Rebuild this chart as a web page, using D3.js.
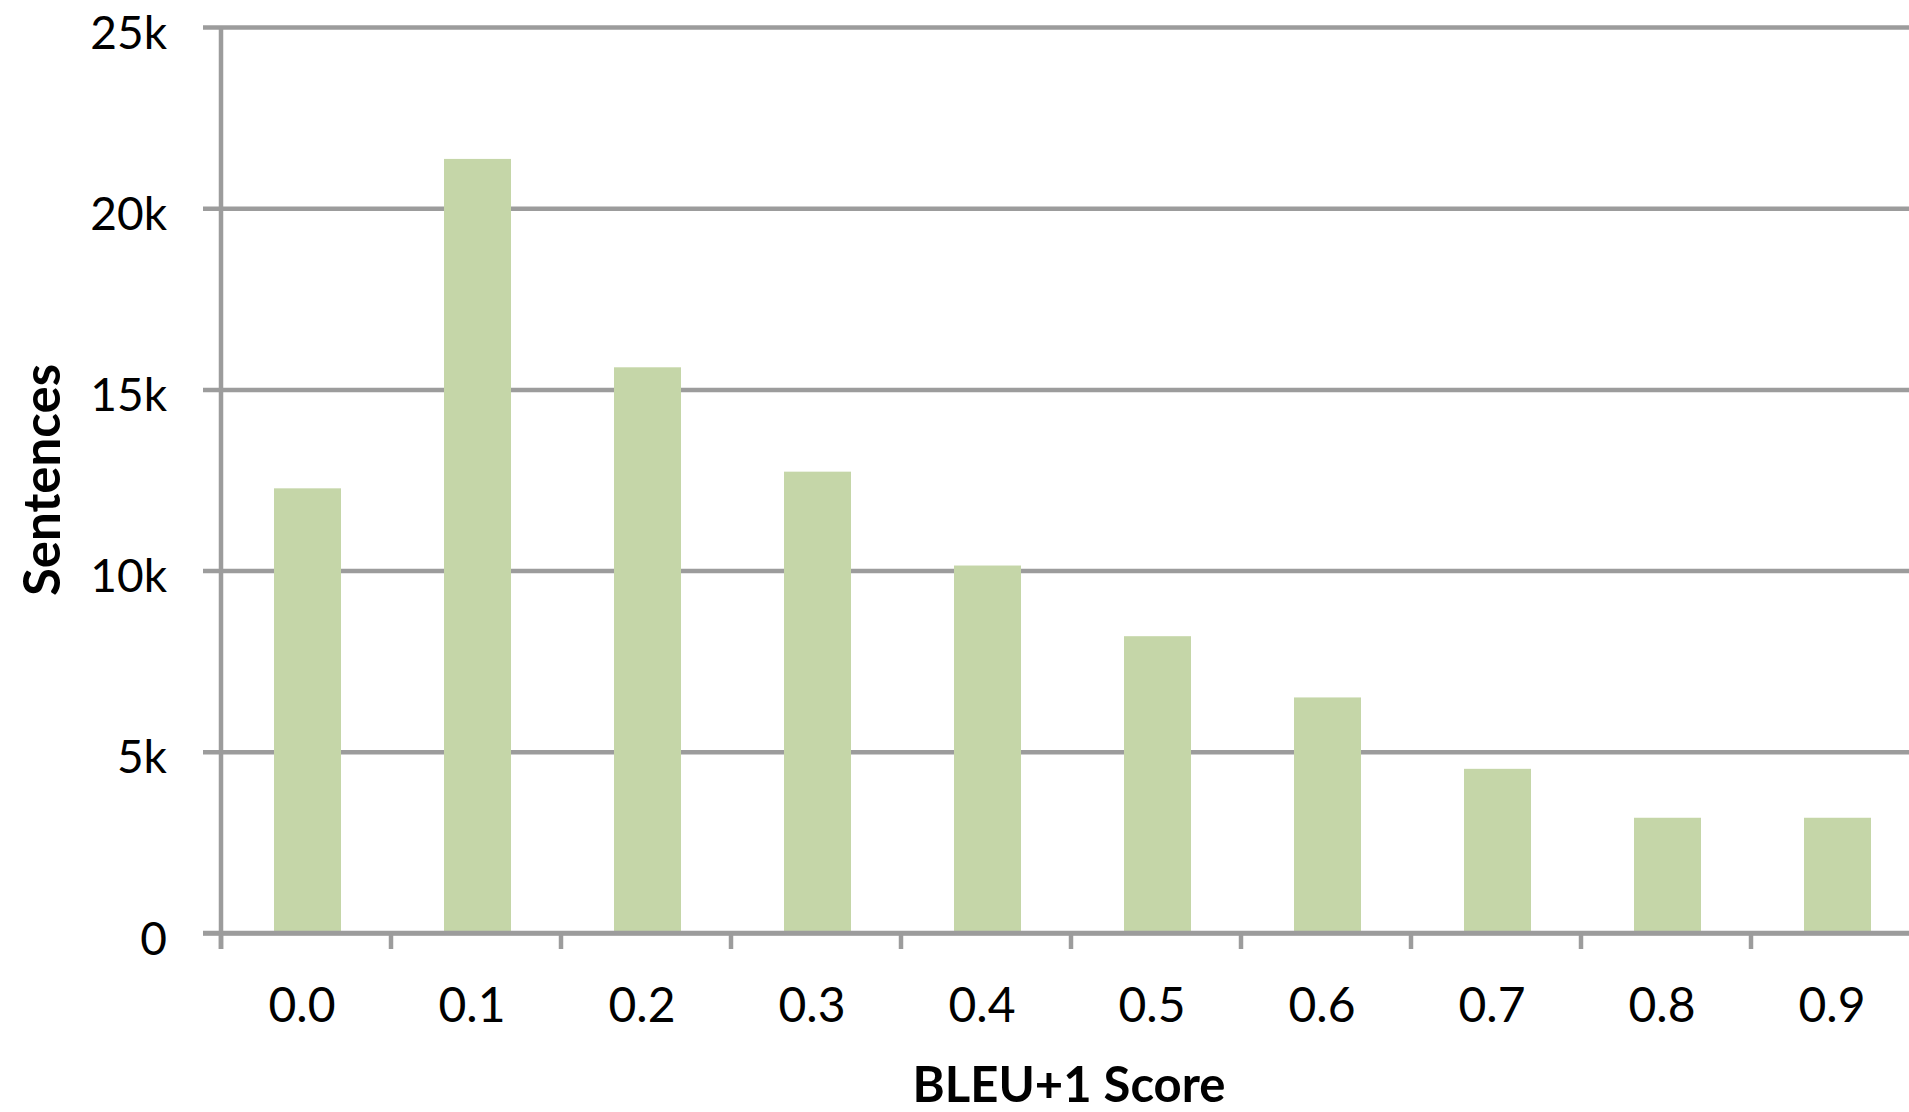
<!DOCTYPE html>
<html>
<head>
<meta charset="utf-8">
<script src="https://cdn.jsdelivr.net/npm/d3@7"></script>
<style>
  html, body { margin: 0; padding: 0; background: #fff; }
  svg { display: block; }
  text { font-family: Lato, "Open Sans", sans-serif; fill: #000; }
</style>
</head>
<body>
<svg id="chart" width="1909" height="1112"></svg>
<script>
const categories = ["0.0","0.1","0.2","0.3","0.4","0.5","0.6","0.7","0.8","0.9"];
const sentences = [12270, 21360, 15610, 12730, 10140, 8190, 6500, 4530, 3180, 3180];
const yTickValues = [0, 5000, 10000, 15000, 20000, 25000];
const yTickLabels = ["0", "5k", "10k", "15k", "20k", "25k"];
const xTitle = "BLEU+1 Score";
const yTitle = "Sentences";

(function draw() {
const W = 1909, H = 1112;
const mLeft = 221, mTop = 27, mBottom = 933;
const svg = d3.select("#chart");
const gridColor = "#9c9c9c";

const x = d3.scaleBand().domain(categories).range([mLeft, mLeft + 1700])
  .paddingInner(0.6).paddingOuter(0.3);
const y = d3.scaleLinear().domain([0, 25000]).range([mBottom, mTop]);

// gridlines + y labels
const yAxis = d3.axisLeft(y).tickValues(yTickValues)
  .tickFormat((d, i) => yTickLabels[i]).tickSize(0).tickPadding(0);
const gy = svg.append("g").attr("transform", `translate(${mLeft},0)`).call(yAxis);
gy.select(".domain").remove();
gy.selectAll(".tick line").remove();
gy.selectAll(".tick").append("line")
  .attr("x1", -18).attr("x2", W - mLeft)
  .attr("stroke", gridColor).attr("stroke-width", 4.5);
gy.selectAll(".tick text")
  .attr("x", -54).attr("dy", null).attr("y", 21)
  .attr("text-anchor", "end")
  .style("font-size", "46px").style("font-family", "Lato, sans-serif");

// bars
svg.append("g").selectAll("rect").data(sentences).join("rect")
  .attr("x", (d, i) => x(categories[i]) + 2)
  .attr("width", x.bandwidth() - 1)
  .attr("y", d => y(d))
  .attr("height", d => y(0) - y(d))
  .attr("fill", "#c5d6a8");

// y axis line
svg.append("line").attr("x1", mLeft).attr("x2", mLeft)
  .attr("y1", mTop).attr("y2", mBottom + 16)
  .attr("stroke", gridColor).attr("stroke-width", 4.5);

// x axis
const xAxis = d3.axisBottom(x).tickSize(0).tickPadding(0);
const gx = svg.append("g").attr("transform", `translate(-4,${mBottom})`).call(xAxis);
gx.select(".domain").remove();
gx.selectAll(".tick text").attr("y", 89).attr("dy", null)
  .style("font-size", "48px").style("font-family", "Lato, sans-serif");
svg.append("line").attr("x1", mLeft - 18).attr("x2", W)
  .attr("y1", mBottom).attr("y2", mBottom)
  .attr("stroke", gridColor).attr("stroke-width", 4.5);
// tick marks at category boundaries
const boundaries = categories.map(c => x(c) - x.step() * x.paddingOuter());
svg.append("g").selectAll("line").data(boundaries).join("line")
  .attr("x1", d => d).attr("x2", d => d)
  .attr("y1", mBottom).attr("y2", mBottom + 16)
  .attr("stroke", gridColor).attr("stroke-width", 4.5);

// titles
svg.append("text").attr("x", 1069).attr("y", 1102)
  .attr("text-anchor", "middle")
  .style("font-size", "49px").style("font-weight", "bold")
  .text(xTitle);
svg.append("text")
  .attr("transform", "translate(60,480) rotate(-90)")
  .attr("text-anchor", "middle")
  .style("font-size", "51px").style("font-weight", "bold")
  .text(yTitle);
})();
</script>
</body>
</html>
